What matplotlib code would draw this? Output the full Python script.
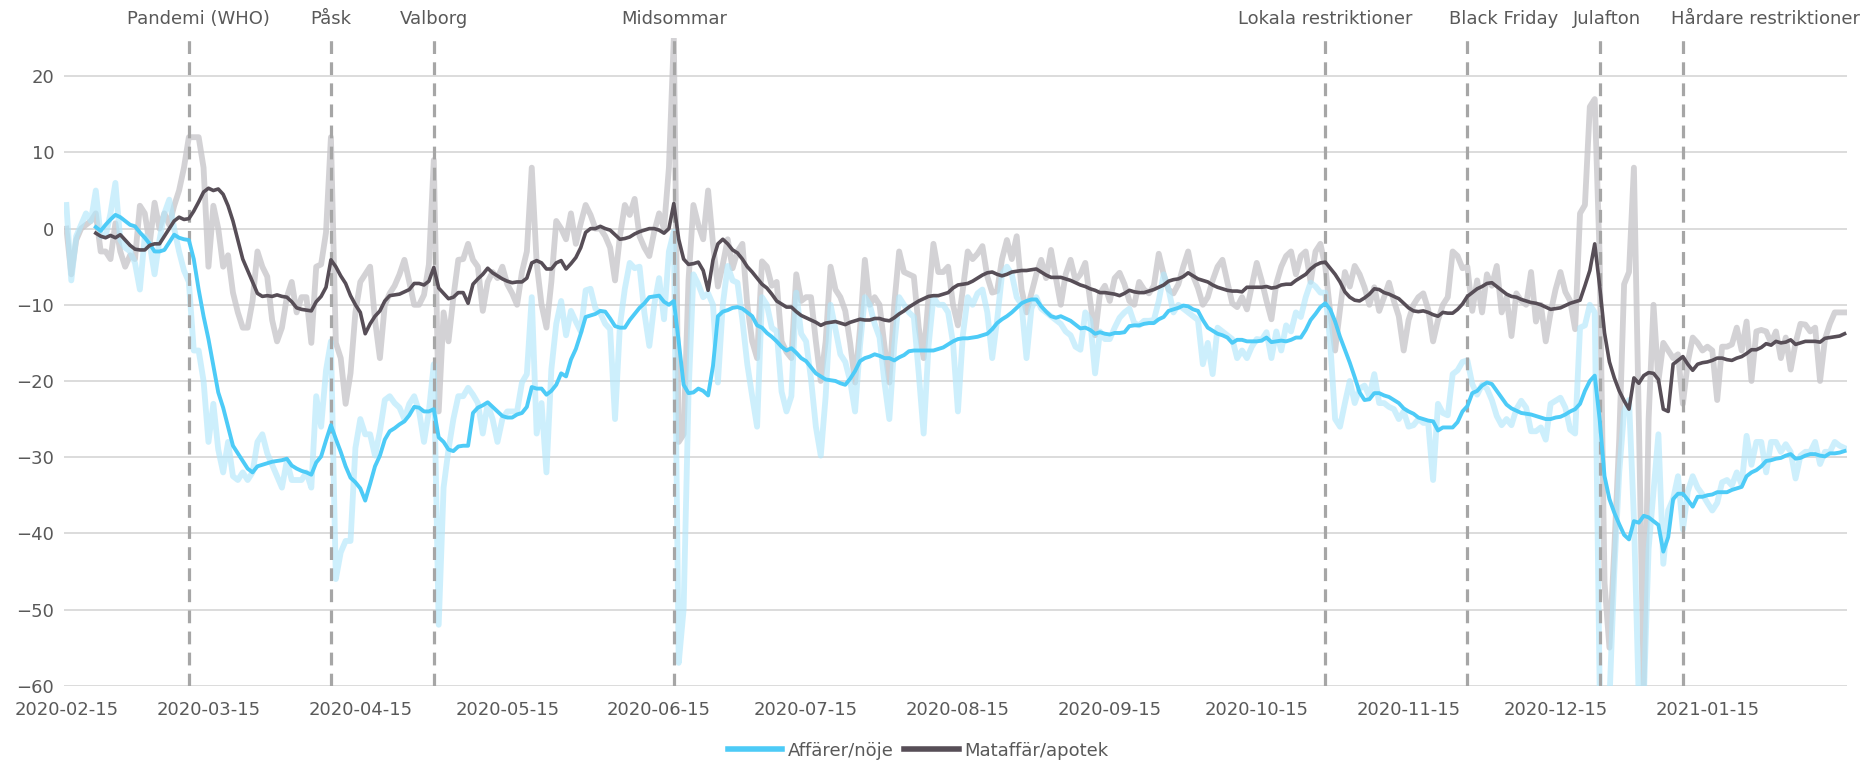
import matplotlib
matplotlib.use("Agg")
import matplotlib.pyplot as plt
import matplotlib.dates as mdates
import matplotlib.transforms as mtransforms
import numpy as np
import pandas as pd

nan = np.nan

start_date = "2020-02-15"

# Affärer/nöje, daily value (light) and 7 day average
affarer_raw = [
    3.1, -6.8, -1, 0.5, 2, 1, 5,
    -1, -1, 2, 6, -1.5, -2.5, -3,
    -4.5, -8, -1, -2, -6, -1.5, 2,
    3.8, 0, -3, -5.5, -7, -16, -16,
    -20, -28, -23, -29, -32, -28, -32.5,
    -33, -32, -33, -32, -28, -27, -29.5,
    -31, -32.5, -34, -30.5, -33, -33, -33,
    -32, -34, -22, -26, -18.6, -14.8, -46,
    -42.5, -41, -41, -28.8, -25, -27, -27,
    -29.8, -26.6, -22.5, -22, -22.9, -23.5, -25,
    -23, -22, -24, -28, -24, -17.8, -52,
    -34, -29, -25, -22, -22, -20.9, -21.8,
    -22.9, -26.9, -23, -25, -28, -25, -24,
    -24, -24, -20.2, -19.1, -9, -26.9, -22.9,
    -32, -18.5, -12.5, -9.5, -14, -10.8, -12.2,
    -13.5, -8.1, -7.9, -10.5, -11.1, -12.5, -13.2,
    -25, -12.7, -7.9, -4.5, -5.2, -5, -11.1,
    -15.4, -10, -6.5, -11.9, -3, -0.4, -57,
    -50, -21.8, -6, -7.3, -9, -8.5, -10,
    -20.2, -10, -4.9, -6.8, -7.1, -12, -17.8,
    -22, -26, -9, -10, -13, -13.5, -21.4,
    -24, -22, -8.4, -13.8, -14.8, -19.7, -26,
    -29.8, -22, -10, -13.2, -16.5, -17.5, -20,
    -24, -15.4, -9, -10, -12.5, -14.3, -20.2,
    -25, -15.4, -9, -10, -11, -11.6, -19,
    -26.9, -15.4, -9, -10, -10, -11, -15,
    -24, -14, -9, -10, -8.5, -8, -11,
    -17, -12, -6, -5, -6, -9, -10,
    -17, -10.5, -9, -10.5, -11, -11.5, -12,
    -12.5, -13.5, -14, -15.5, -15.9, -11, -12,
    -19, -13.5, -14.5, -14.5, -13, -11.7, -11,
    -10.5, -12.4, -12.7, -12.1, -12.1, -12, -9.5,
    -6, -8, -11, -10, -10.5, -11, -11.5,
    -12, -17.8, -15, -19.1, -13, -13.5, -14,
    -14.5, -17, -16, -17, -15.5, -14.5, -14.6,
    -13.6, -17, -13.5, -16, -12.7, -13.5, -11,
    -11.6, -9, -7.1, -7.6, -8.4, -8.4, -15,
    -25, -26, -22.9, -20, -22.9, -21, -20.6,
    -22, -19.1, -22.9, -22.9, -23.4, -23.7, -25,
    -24, -26, -25.8, -25, -25.5, -25.5, -33,
    -23, -24.2, -24.5, -19.1, -18.6, -17.5, -17.3,
    -20.4, -21.8, -20.5, -21, -22.5, -24.6, -25.8,
    -25, -25.8, -23.7, -22.6, -23.5, -26.6, -26.6,
    -26.1, -27.7, -23, -22.6, -22.2, -23.5, -26.4,
    -26.9, -13, -12.7, -10, -11, -60, -62,
    -62, -45, -32, -24, -22.5, -38, -62,
    -62, -42, -34.5, -27, -44, -37, -35.5,
    -32.5, -39.5, -34.5, -32.5, -34, -34.9, -36,
    -37, -36, -33.3, -33, -33.7, -32, -33.6,
    -27.2, -31, -28, -28, -32, -28, -28,
    -29.3, -28.3, -29.3, -32.8, -29.8, -29.3, -29.3,
    -28, -30.9, -29.3, -29.3, -28, -28.5, -28.8,
]

affarer_avg = [
    nan, nan, nan, nan, nan, nan, 0.2,
    -0.3, 0.5, 1.2, 1.8, 1.5, 1, 0.5,
    0.3, -0.5, -1.2, -2, -3, -3, -2.8,
    -1.8, -0.8, -1.2, -1.4, -1.5, -4, -8,
    -11.5, -14.5, -18, -21.5, -23.5, -26, -28.5,
    -29.5, -30.5, -31.5, -32, -31.2, -31, -30.8,
    -30.6, -30.5, -30.4, -30.2, -31.1, -31.5, -31.8,
    -32, -32.3, -30.7, -29.9, -27.8, -25.8, -27.6,
    -29.3, -31.2, -32.7, -33.3, -34.1, -35.7, -33.5,
    -31.2, -29.8, -27.7, -26.6, -26.2, -25.7, -25.3,
    -24.5, -23.4, -23.5, -24, -24, -23.7, -27.4,
    -28, -29, -29.2, -28.6, -28.5, -28.5, -24.2,
    -23.5, -23.2, -22.8, -23.4, -24, -24.6, -24.8,
    -24.8, -24.4, -24.2, -23.4, -20.8, -21, -21,
    -21.8, -21.3, -20.5, -19, -19.4, -17.2, -15.8,
    -13.8, -11.6, -11.4, -11.2, -10.8, -10.9, -11.8,
    -12.8, -13, -13, -12, -11.2, -10.4, -9.8,
    -9, -8.9, -8.8, -9.6, -10, -9.5, -14.8,
    -20.5, -21.6, -21.5, -21, -21.3, -21.9, -18,
    -11.5, -10.9, -10.7, -10.4, -10.3, -10.5, -11,
    -11.5, -12.7, -13, -13.7, -14.2, -14.8, -15.5,
    -16, -15.7, -16.3, -17, -17.4, -18.2, -19,
    -19.4, -19.8, -19.9, -20, -20.3, -20.5, -19.7,
    -18.7, -17.4, -17, -16.8, -16.5, -16.7, -17,
    -17, -17.3, -16.9, -16.6, -16.1, -16, -16,
    -16, -16, -16, -15.8, -15.6, -15.2, -14.8,
    -14.5, -14.4, -14.4, -14.3, -14.2, -14, -13.8,
    -13.2, -12.4, -11.9, -11.5, -11, -10.4, -9.8,
    -9.5, -9.3, -9.3, -10.2, -10.9, -11.5, -11.7,
    -11.5, -11.8, -12.1, -12.6, -13.1, -13, -13.3,
    -13.8, -13.6, -13.8, -13.9, -13.7, -13.7, -13.6,
    -12.8, -12.7, -12.7, -12.5, -12.4, -12.4, -11.9,
    -11.6, -10.8, -10.6, -10.4, -10.1, -10.2, -10.6,
    -10.8, -12, -13, -13.4, -13.8, -14, -14.3,
    -15, -14.6, -14.6, -14.8, -14.8, -14.8, -14.7,
    -14.3, -14.9, -14.8, -14.7, -14.8, -14.6, -14.3,
    -14.3, -13.3, -12, -11.2, -10.3, -9.8, -10.6,
    -12.2, -14.2, -15.9, -17.6, -19.5, -21.5, -22.5,
    -22.4, -21.6, -21.6, -21.9, -22.1, -22.5, -22.9,
    -23.6, -24, -24.3, -24.8, -25, -25.2, -25.3,
    -26.5, -26.1, -26.1, -26.1, -25.4, -24, -23.3,
    -21.6, -21.3, -20.6, -20.2, -20.4, -21.3, -22.2,
    -23.1, -23.6, -23.9, -24.2, -24.3, -24.4, -24.6,
    -24.8, -25, -25, -24.8, -24.7, -24.4, -24,
    -23.7, -23, -21.3, -20, -19.3, -25, -32.5,
    -35.5, -37.3, -38.8, -40.2, -40.8, -38.4, -38.6,
    -37.7, -37.9, -38.4, -38.9, -42.4, -40.5, -35.5,
    -34.8, -34.8, -35.6, -36.5, -35.2, -35.2, -35,
    -34.9, -34.6, -34.6, -34.6, -34.3, -34.1, -33.9,
    -32.5, -32, -31.7, -31.2, -30.5, -30.4, -30.2,
    -30.1, -29.8, -29.6, -30.2, -30.1, -29.8, -29.6,
    -29.6, -29.8, -29.9, -29.5, -29.5, -29.4, -29.2,
]

# Mataffär/apotek, daily value (light) and 7 day average
mataffar_raw = [
    0, -6, -1.5, 0, 0.5, 1, 2,
    -3, -3, -4, 0.7, -3, -5, -3.5,
    -4, 3, 2, -2, 3.4, 0, 2,
    0.5, 3, 5, 8, 12, 12, 12,
    8, -5, 3, 0, -5, -3.5, -8.4,
    -11, -13, -13, -9.5, -3, -5, -6.3,
    -12, -14.8, -13, -9, -7, -11, -9,
    -9, -15, -5, -4.7, -0.5, 12, -15,
    -17, -23, -19, -11, -7, -6, -5,
    -12, -17, -10, -8.5, -7.5, -6, -4.1,
    -7, -10, -10, -8.7, -4.7, 9, -24,
    -11, -14.8, -9, -4.1, -4, -2, -4.1,
    -5, -10.8, -7, -5.7, -6.5, -5, -7.3,
    -8.5, -10, -5.7, -3, 8, -4.5, -10,
    -13, -7, 1, 0, -1.4, 2, -2,
    0.7, 3.1, 1.8, 0, 0, -1, -2.5,
    -6.8, -1, 3.1, 1.8, 3.9, -1, -2.5,
    -3.6, -0.4, 2, 0, 8, 25, -28,
    -27, -6.8, 3.1, 0.5, -1.4, 5, -2,
    -7.6, -4.7, -1.4, -5.2, -3, -2, -10,
    -14.8, -17, -4.3, -5, -7.5, -7, -14.8,
    -16.2, -17, -6, -9.5, -9, -9, -14.8,
    -20, -14.8, -5, -8, -9, -10.8, -15,
    -20.2, -13.2, -4.1, -10, -9, -10, -15.4,
    -20.2, -10, -3, -5.7, -6, -6.3, -13,
    -17, -9, -2, -5.7, -5.7, -5, -10,
    -12.7, -8, -3, -4, -3.3, -2.3, -6.3,
    -8.4, -8.2, -4, -1.5, -4, -1, -8,
    -11, -8.5, -6, -4.1, -6.5, -2.8, -6.5,
    -10, -6, -4.1, -6.8, -6, -4.5, -9.5,
    -14, -8.5, -7.5, -9.5, -6.5, -5.8, -7.3,
    -9.5, -10, -7, -8, -8.5, -7.5, -3.3,
    -6, -8, -8.5, -7.3, -5, -3, -6.2,
    -7.8, -10, -9, -6.8, -5, -4.1, -7,
    -9.8, -10.3, -9, -10.6, -7.5, -4.5, -6.8,
    -9.5, -11.9, -7.2, -5, -3.6, -3, -6,
    -3.6, -3, -7, -3, -2, -5, -11,
    -16, -10.6, -5.7, -7.6, -4.9, -6, -7.7,
    -10, -7.7, -10.8, -9, -7.1, -9.5, -11.5,
    -16, -12, -10, -9, -8.5, -10.6, -14.8,
    -12, -10, -9, -3, -3.6, -5.2, -5,
    -10.8, -6.8, -11, -6, -7.5, -4.9, -11,
    -9, -14.1, -8.5, -9.5, -10, -5.7, -12.2,
    -10, -14.8, -11, -8, -5.7, -8.3, -9.5,
    -13.2, 2, 3.1, 16, 17, -3.6, -46.5,
    -55, -42, -27.7, -7.3, -5.7, 8, -25,
    -60, -25, -10, -20, -15, -16, -17,
    -16.5, -23, -17.5, -14.3, -15, -16, -15.5,
    -16, -22.5, -15.5, -15.5, -15.2, -13, -16,
    -12.2, -20, -13.5, -13.3, -13.5, -15, -13.5,
    -17, -14.3, -18.5, -15, -12.5, -12.6, -13.5,
    -13, -20, -14.5, -12.5, -11, -11, -11,
]

mataffar_avg = [
    nan, nan, nan, nan, nan, nan, -0.6,
    -1, -1.2, -0.9, -1.2, -0.8, -1.5, -2.2,
    -2.7, -2.8, -2.8, -2.2, -2, -2, -1,
    0, 1, 1.5, 1.2, 1.3, 2.3, 3.5,
    4.8, 5.3, 5, 5.2, 4.5, 3, 1,
    -1.5, -4, -5.5, -7, -8.5, -8.9, -8.8,
    -8.9, -8.7, -8.9, -9, -9.6, -10.4, -10.6,
    -10.7, -10.8, -9.6, -8.9, -7.7, -4.1, -5,
    -6.2, -7.2, -8.8, -10, -11, -13.8, -12.5,
    -11.5, -10.8, -9.5, -8.8, -8.7, -8.6, -8.3,
    -8, -7.2, -7.2, -7.4, -6.9, -5.1, -7.8,
    -8.5, -9.2, -9, -8.4, -8.4, -9.8, -7.3,
    -6.6, -6, -5.2, -5.8, -6.2, -6.6, -6.9,
    -7.1, -7, -7, -6.5, -4.5, -4.2, -4.5,
    -5.3, -5.3, -4.5, -4.2, -5.3, -4.6, -3.8,
    -2.5, -0.5, 0, 0, 0.3, 0, -0.2,
    -0.8, -1.4, -1.3, -1.1, -0.7, -0.4, -0.2,
    0, 0, -0.2, -0.6, 0, 3.3, -1.4,
    -4, -4.7, -4.6, -4.4, -5.5, -8.1, -4.1,
    -2, -1.4, -2, -2.8, -3.2, -4, -5,
    -5.7, -6.5, -7.3, -7.8, -8.6, -9.5, -9.9,
    -10.3, -10.3, -10.9, -11.4, -11.7, -12, -12.3,
    -12.7, -12.4, -12.3, -12.2, -12.4, -12.6, -12.3,
    -12.1, -11.9, -12, -12, -11.8, -11.8, -12,
    -12.1, -11.7, -11.2, -10.8, -10.3, -9.9, -9.5,
    -9.2, -8.9, -8.8, -8.8, -8.6, -8.4, -7.8,
    -7.4, -7.3, -7.2, -6.9, -6.5, -6.1, -5.8,
    -5.7, -6, -6.2, -6, -5.7, -5.6, -5.5,
    -5.5, -5.4, -5.3, -5.7, -6.1, -6.4, -6.4,
    -6.4, -6.6, -6.8, -7.1, -7.4, -7.6, -7.9,
    -8.1, -8.4, -8.4, -8.5, -8.6, -8.8, -8.5,
    -8.1, -8.3, -8.4, -8.4, -8.2, -8, -7.7,
    -7.4, -6.9, -6.7, -6.6, -6.3, -5.8, -6.2,
    -6.6, -6.8, -7, -7.4, -7.7, -7.9, -8.1,
    -8.2, -8.2, -8.3, -7.7, -7.7, -7.7, -7.7,
    -7.6, -7.8, -7.7, -7.4, -7.3, -7.3, -6.8,
    -6.4, -6, -5.3, -4.8, -4.5, -4.4, -5.2,
    -6, -7, -8.3, -9, -9.4, -9.5, -9.1,
    -8.6, -7.9, -8, -8.4, -8.6, -8.9, -9.2,
    -9.8, -10.4, -10.8, -10.9, -10.8, -11, -11.3,
    -11.5, -11, -11.1, -11.1, -10.6, -9.9, -8.9,
    -8.4, -7.9, -7.6, -7.2, -7.1, -7.6, -8.1,
    -8.6, -8.9, -9, -9.3, -9.5, -9.7, -9.8,
    -10, -10.3, -10.6, -10.5, -10.4, -10.1, -9.8,
    -9.6, -9.4, -7.5, -5.5, -2, -7.5, -13.7,
    -17.5, -19.6, -21.3, -22.6, -23.7, -19.6, -20.3,
    -19.3, -18.9, -19, -19.8, -23.7, -24, -17.8,
    -17.3, -16.8, -17.8, -18.6, -17.8, -17.6, -17.5,
    -17.3, -17, -17, -17.2, -17.3, -17, -16.8,
    -16.4, -15.9, -15.9, -15.6, -15.1, -15.3, -14.8,
    -15, -14.9, -14.6, -15.2, -15, -14.8, -14.8,
    -14.8, -14.9, -14.4, -14.3, -14.2, -14.1, -13.8,
]

event_names = ["Pandemi (WHO)", "Påsk", "Valborg", "Midsommar",
               "Lokala restriktioner", "Black Friday", "Julafton",
               "Hårdare restriktioner"]
event_dates = ["2020-03-11", "2020-04-09", "2020-04-30", "2020-06-18",
               "2020-10-29", "2020-11-27", "2020-12-24", "2021-01-10"]

tick_dates = ["2020-02-15", "2020-03-15", "2020-04-15", "2020-05-15",
              "2020-06-15", "2020-07-15", "2020-08-15", "2020-09-15",
              "2020-10-15", "2020-11-15", "2020-12-15", "2021-01-15"]

y_ticks = [20, 10, 0, -10, -20, -30, -40, -50, -60]


def DrawChart():
    dates = pd.date_range(start_date, periods=len(affarer_raw), freq="D")

    fig = plt.figure(figsize=(18.7, 7.63), dpi=100)
    ax = fig.add_axes([0.0342, 0.1013, 0.9535, 0.8487])

    text_color = "#595959"
    fs = 13

    ax.plot(dates, mataffar_raw, color="#C9C7CB", lw=4.2, alpha=0.8,
            solid_joinstyle="round", zorder=2)
    ax.plot(dates, affarer_raw, color="#B3E7FB", lw=4.2, alpha=0.65,
            solid_joinstyle="round", zorder=2)

    # label placement (alignment, shift in days) so the top texts do not collide
    label_place = [("center", 2), ("center", 0), ("center", 0), ("center", 0),
                   ("center", 0), ("left", -3.7), ("center", 1.5),
                   ("left", -2.5)]

    trans = mtransforms.blended_transform_factory(ax.transData, ax.transAxes)
    for name, day, (ha, shift) in zip(event_names, event_dates, label_place):
        d = pd.Timestamp(day)
        ax.axvline(d, color="#A6A6A6", lw=2.3, dashes=(4, 2.6), zorder=3)
        ax.text(d + pd.Timedelta(days=shift), 1.03, name, transform=trans,
                ha=ha, va="center", fontsize=fs, color=text_color)

    ax.plot(dates, affarer_avg, color="#4DCBF7", lw=2.8, zorder=4,
            label="Affärer/nöje")
    ax.plot(dates, mataffar_avg, color="#574E57", lw=2.6, zorder=4,
            label="Mataffär/apotek")

    ax.set_ylim(-60, 25)
    ax.set_xlim(dates[0] - pd.Timedelta(hours=12),
                dates[-1] + pd.Timedelta(hours=12))
    ax.set_yticks(y_ticks)
    ax.set_xticks([pd.Timestamp(t) for t in tick_dates])
    ax.xaxis.set_major_formatter(mdates.DateFormatter("%Y-%m-%d"))

    ax.grid(axis="y", color="#D9D9D9", lw=1.3, zorder=0)
    ax.set_axisbelow(True)
    for s in ax.spines.values():
        s.set_visible(False)
    ax.tick_params(axis="both", length=0, labelsize=fs, colors=text_color)
    ax.tick_params(axis="x", pad=11)
    ax.tick_params(axis="y", pad=7)

    leg = fig.legend(loc="center", bbox_to_anchor=(0.491, 0.016), ncol=2,
                     frameon=False, fontsize=fs, handlelength=3.0,
                     columnspacing=0.6, handletextpad=0.3)
    for line in leg.get_lines():
        line.set_linewidth(4)
    for t in leg.get_texts():
        t.set_color(text_color)

    fig.savefig("out.png", dpi=100)
    print("Chart saved as out.png")


def main():
    DrawChart()


if __name__ == "__main__":
    main()
